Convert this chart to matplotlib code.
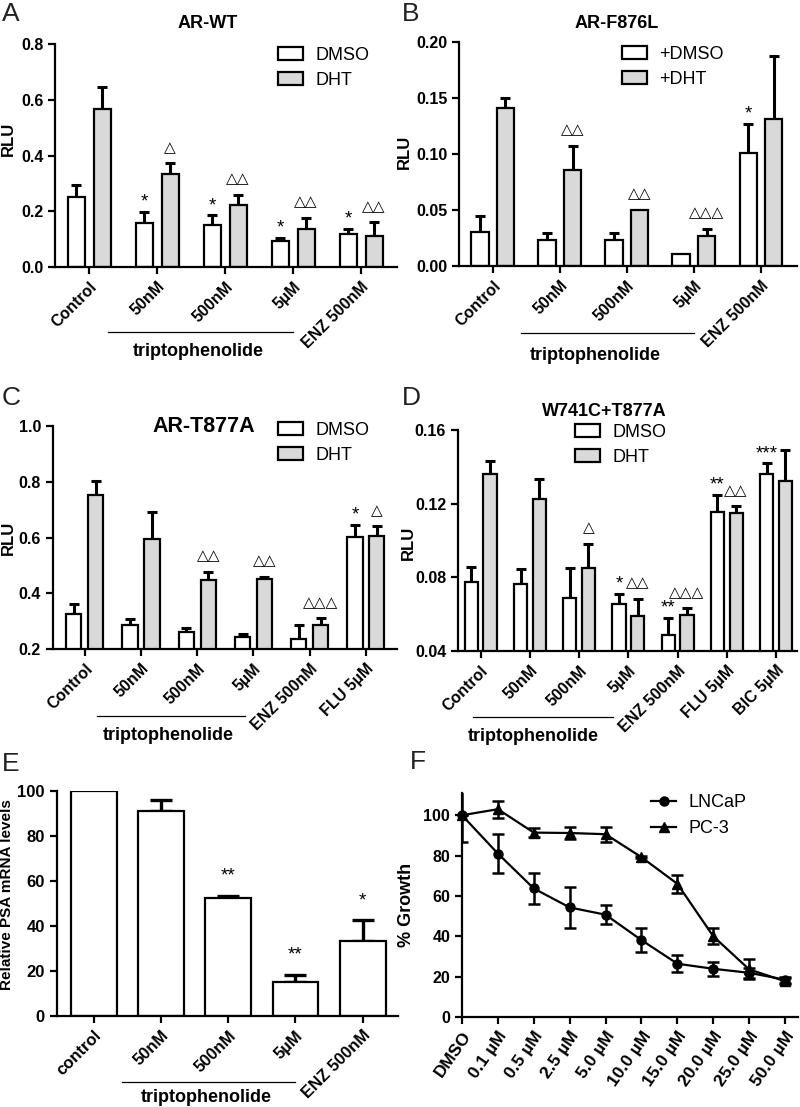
import numpy as np
import matplotlib.pyplot as plt
from matplotlib.patches import Patch
from matplotlib.lines import Line2D

plt.rcParams['font.family'] = ['Liberation Sans', 'DejaVu Sans']
plt.rcParams['axes.linewidth'] = 1.6

GREY = '#d9d9d9'

# ---------------- data ----------------
a_groups = ['Control', '50nM', '500nM', '5µM', 'ENZ 500nM']
a_dmso = [0.251, 0.158, 0.149, 0.094, 0.119]
a_dmso_err = [0.044, 0.039, 0.036, 0.011, 0.018]
a_dht = [0.567, 0.334, 0.223, 0.136, 0.113]
a_dht_err = [0.078, 0.039, 0.036, 0.040, 0.047]
a_dmso_sig = ['', '*', '*', '*', '*']
a_dht_sig = ['', '△', '△△', '△△', '△△']

b_groups = ['Control', '50nM', '500nM', '5µM', 'ENZ 500nM']
b_dmso = [0.030, 0.0236, 0.0236, 0.0104, 0.1006]
b_dmso_err = [0.0144, 0.006, 0.006, 0.0, 0.0266]
b_dht = [0.1409, 0.0857, 0.0504, 0.0272, 0.131]
b_dht_err = [0.0095, 0.0215, 0.0, 0.006, 0.0568]
b_dmso_sig = ['', '', '', '', '*']
b_dht_sig = ['', '△△', '△△', '△△△', '']

c_groups = ['Control', '50nM', '500nM', '5µM', 'ENZ 500nM', 'FLU 5µM']
c_dmso = [0.326, 0.287, 0.261, 0.242, 0.237, 0.601]
c_dmso_err = [0.035, 0.021, 0.014, 0.013, 0.048, 0.044]
c_dht = [0.752, 0.595, 0.448, 0.452, 0.285, 0.607]
c_dht_err = [0.051, 0.097, 0.030, 0.008, 0.026, 0.034]
c_dmso_sig = ['', '', '', '', '', '*']
c_dht_sig = ['', '', '△△', '△△', '△△△', '△']

d_groups = ['Control', '50nM', '500nM', '5µM', 'ENZ 500nM', 'FLU 5µM', 'BIC 5µM']
d_dmso = [0.0776, 0.0762, 0.069, 0.0657, 0.0489, 0.1157, 0.136]
d_dmso_err = [0.0078, 0.0083, 0.0159, 0.0051, 0.0091, 0.009, 0.0059]
d_dht = [0.136, 0.1225, 0.0852, 0.059, 0.0595, 0.1147, 0.1321]
d_dht_err = [0.0073, 0.0109, 0.0131, 0.0094, 0.0037, 0.004, 0.0169]
d_dmso_sig = ['', '', '', '*', '**', '**', '***']
d_dht_sig = ['', '', '△', '△△', '△△△', '△△', '']

e_groups = ['control', '50nM', '500nM', '5µM', 'ENZ 500nM']
e_psa = [100, 91, 52.3, 15.1, 33.2]
e_psa_err = [0, 5.1, 1.2, 3.3, 9.3]
e_sig = ['', '', '**', '**', '*']

f_doses = ['DMSO', '0.1 µM', '0.5 µM', '2.5 µM', '5.0 µM', '10.0 µM',
           '15.0 µM', '20.0 µM', '25.0 µM', '50.0 µM']
f_lncap = [100, 81, 63.7, 54.3, 50.7, 38.1, 26.4, 23.9, 21.9, 18.5]
f_lncap_err = [13.5, 9.6, 7.6, 10, 4.8, 6, 4.2, 3.5, 2.4, 1.5]
f_pc3 = [100, 103, 91.4, 91.2, 90.6, 79.2, 66, 40, 23.6, 17.7]
f_pc3_err = [0, 4.3, 2.2, 2.8, 3.8, 0.6, 4.4, 4, 5, 1.5]

fig = plt.figure(figsize=(8, 11.07), dpi=100)


def style(ax, ysize=11.5):
    for s in ['top', 'right']:
        ax.spines[s].set_visible(False)
    ax.tick_params(direction='out', length=5, width=1.6, labelsize=ysize)
    plt.setp(ax.get_yticklabels(), fontweight='bold')


def legend(ax, labels, fx, fy):
    handles = [Patch(facecolor='white', edgecolor='black', lw=1.6),
               Patch(facecolor=GREY, edgecolor='black', lw=1.6)]
    ax.legend(handles, labels, loc='upper left', bbox_to_anchor=(fx / 800, 1 - fy / 1107),
              bbox_transform=fig.transFigure, frameon=False, fontsize=13,
              handlelength=1.4, handleheight=0.75, handletextpad=0.65,
              labelspacing=0.42, borderpad=0, borderaxespad=0)


def marks(ax, xs, tops, sig, star):
    for xi, t, s in zip(xs, tops, sig):
        if not s:
            continue
        if star:
            ax.annotate(s, (xi, t), xytext=(0, 1), textcoords='offset points',
                        ha='center', va='bottom', fontsize=13.5)
        else:
            ax.annotate(s, (xi, t), xytext=(0, 6), textcoords='offset points',
                        ha='center', va='bottom', fontsize=11, family='DejaVu Sans')


def bar_panel(ax, groups, dmso, dmso_err, dht, dht_err, dmso_sig, dht_sig, off, w):
    x = np.arange(len(groups))
    ax.bar(x - off, dmso, w, color='white', edgecolor='black', lw=1.6, zorder=2)
    ax.bar(x + off, dht, w, color=GREY, edgecolor='black', lw=1.6, zorder=2)
    for xs, ys, es in ((x - off, dmso, dmso_err), (x + off, dht, dht_err)):
        ys = np.asarray(ys)
        es = np.asarray(es)
        m = es > 0
        ax.errorbar(xs[m], ys[m], yerr=[np.zeros(m.sum()), es[m]], fmt='none',
                    ecolor='black', elinewidth=2.2, capsize=3.5, capthick=2.2, zorder=1)
    marks(ax, x - off, np.asarray(dmso) + np.asarray(dmso_err), dmso_sig, True)
    marks(ax, x + off, np.asarray(dht) + np.asarray(dht_err), dht_sig, False)
    ax.set_xticks(x)
    ax.set_xticklabels(groups, rotation=45, ha='right', va='top', rotation_mode='anchor',
                       fontweight='bold', fontsize=12.5)
    style(ax)


def tripto(ax, x0, x1, yl, xt, yt):
    tr = ax.get_xaxis_transform()
    ax.plot([x0, x1], [yl, yl], transform=tr, clip_on=False, color='black', lw=0.9)
    ax.text(xt, yt, 'triptophenolide', transform=tr, ha='center', va='center',
            fontweight='bold', fontsize=13)


def letter(x, y, s):
    fig.text(x / 800, 1 - y / 1107, s, fontsize=19, color='#222222', va='top', ha='left')


# ---------------- A ----------------
axA = fig.add_axes([0.069, 0.7588, 0.4275, 0.2014])
bar_panel(axA, a_groups, a_dmso, a_dmso_err, a_dht, a_dht_err, a_dmso_sig, a_dht_sig, 0.19, 0.25)
axA.set_xlim(-0.5, 4.53)
axA.set_ylim(0, 0.8)
axA.set_yticks([0, 0.2, 0.4, 0.6, 0.8])
axA.set_yticklabels(['0.0', '0.2', '0.4', '0.6', '0.8'], fontweight='bold')
axA.set_ylabel('RLU', fontweight='bold', fontsize=12)
axA.yaxis.set_label_coords(-0.114, 0.576)
axA.text(0.447, 1.094, 'AR-WT', transform=axA.transAxes, ha='center', va='center',
         fontweight='bold', fontsize=13)
legend(axA, ['DMSO', 'DHT'], 278, 47)
tripto(axA, 0.27, 3.0, -0.29, 1.6, -0.38)
letter(2, 2, 'A')

# ---------------- B ----------------
axB = fig.add_axes([0.574, 0.7597, 0.4225, 0.2023])
bar_panel(axB, b_groups, b_dmso, b_dmso_err, b_dht, b_dht_err, b_dmso_sig, b_dht_sig, 0.19, 0.26)
axB.set_xlim(-0.5, 4.54)
axB.set_ylim(0, 0.2)
axB.set_yticks([0, 0.05, 0.10, 0.15, 0.20])
axB.set_yticklabels(['0.00', '0.05', '0.10', '0.15', '0.20'], fontweight='bold')
axB.set_ylabel('RLU', fontweight='bold', fontsize=12)
axB.yaxis.set_label_coords(-0.139, 0.51)
axB.text(0.467, 1.085, 'AR-F876L', transform=axB.transAxes, ha='center', va='center',
         fontweight='bold', fontsize=13)
legend(axB, ['+DMSO', '+DHT'], 622, 46)
tripto(axB, 0.42, 3.0, -0.30, 1.53, -0.40)
letter(402, 2, 'B')

# ---------------- C ----------------
axC = fig.add_axes([0.066, 0.4137, 0.43, 0.2014])
bar_panel(axC, c_groups, c_dmso, c_dmso_err, c_dht, c_dht_err, c_dmso_sig, c_dht_sig, 0.195, 0.27)
axC.set_xlim(-0.57, 5.55)
axC.set_ylim(0.2, 1.0)
axC.set_yticks([0.2, 0.4, 0.6, 0.8, 1.0])
axC.set_yticklabels(['0.2', '0.4', '0.6', '0.8', '1.0'], fontweight='bold')
axC.set_ylabel('RLU', fontweight='bold', fontsize=12)
axC.yaxis.set_label_coords(-0.108, 0.5)
axC.text(0.44, 1.0, 'AR-T877A', transform=axC.transAxes, ha='center', va='center',
         fontweight='bold', fontsize=15.5)
legend(axC, ['DMSO', 'DHT'], 278, 422)
tripto(axC, 0.21, 2.85, -0.30, 1.48, -0.386)
letter(2, 386, 'C')

# ---------------- D ----------------
axD = fig.add_axes([0.5725, 0.4119, 0.424, 0.1996])
bar_panel(axD, d_groups, d_dmso, d_dmso_err, d_dht, d_dht_err, d_dmso_sig, d_dht_sig, 0.19, 0.27)
axD.set_xlim(-0.46, 6.43)
axD.set_ylim(0.04, 0.16)
axD.set_yticks([0.04, 0.08, 0.12, 0.16])
axD.set_yticklabels(['0.04', '0.08', '0.12', '0.16'], fontweight='bold')
axD.set_ylabel('RLU', fontweight='bold', fontsize=12)
axD.yaxis.set_label_coords(-0.124, 0.49)
axD.text(0.43, 1.083, 'W741C+T877A', transform=axD.transAxes, ha='center', va='center',
         fontweight='bold', fontsize=13)
legend(axD, ['DMSO', 'DHT'], 575, 424)
tripto(axD, -0.16, 2.69, -0.30, 1.06, -0.385)
letter(402, 386, 'D')

# ---------------- E ----------------
axE = fig.add_axes([0.071, 0.0822, 0.426, 0.2033])
xe = np.arange(len(e_groups))
axE.bar(xe, e_psa, 0.68, color='white', edgecolor='black', lw=1.6, zorder=2)
me = np.asarray(e_psa_err) > 0
axE.errorbar(xe[me], np.asarray(e_psa)[me], yerr=[np.zeros(me.sum()), np.asarray(e_psa_err)[me]],
             fmt='none', ecolor='black', elinewidth=2.4, capsize=8, capthick=2.4, zorder=1)
for xi, t, s in zip(xe, np.asarray(e_psa) + np.asarray(e_psa_err), e_sig):
    if s:
        axE.annotate(s, (xi, t), xytext=(0, 8), textcoords='offset points',
                     ha='center', va='bottom', fontsize=13.5)
axE.set_xticks(xe)
axE.set_xticklabels(e_groups, rotation=45, ha='right', va='top', rotation_mode='anchor',
                    fontweight='bold', fontsize=12.5)
style(axE, 12)
axE.set_xlim(-0.55, 4.52)
axE.set_ylim(0, 100)
axE.set_yticks([0, 20, 40, 60, 80, 100])
plt.setp(axE.get_yticklabels(), fontweight='bold')
axE.set_ylabel('Relative PSA mRNA levels', fontweight='bold', fontsize=11)
axE.yaxis.set_label_coords(-0.125, 0.54)
tripto(axE, 0.42, 3.0, -0.293, 1.67, -0.36)
letter(2, 752, 'E')

# ---------------- F ----------------
axF = fig.add_axes([0.5775, 0.0813, 0.42, 0.2023])
xf = np.arange(len(f_doses))
for vals, errs, mk, lab in ((f_lncap, f_lncap_err, 'o', 'LNCaP'), (f_pc3, f_pc3_err, '^', 'PC-3')):
    axF.plot(xf, vals, color='black', lw=1.6, marker=mk, ms=6.5, clip_on=False, zorder=3, label=lab)
    axF.errorbar(xf, vals, yerr=errs, fmt='none', ecolor='black',
                 capsize=4.5, capthick=1.8, elinewidth=1.8, zorder=2)
style(axF)
axF.set_xticks(xf)
axF.set_xticklabels(f_doses, rotation=55, ha='right', va='top', rotation_mode='anchor',
                    fontweight='bold', fontsize=12.5)
axF.set_xlim(0, 9.36)
axF.set_ylim(0, 111)
axF.set_yticks([0, 20, 40, 60, 80, 100])
plt.setp(axF.get_yticklabels(), fontweight='bold')
axF.set_ylabel('% Growth', fontweight='bold', fontsize=13)
axF.yaxis.set_label_coords(-0.14, 0.5)
hl = [Line2D([0], [0], color='black', lw=1.6, marker='o', ms=6.5),
      Line2D([0], [0], color='black', lw=1.6, marker='^', ms=6.5)]
axF.legend(hl, ['LNCaP', 'PC-3'], loc='upper left', bbox_to_anchor=(651 / 800, 1 - 794 / 1107),
           bbox_transform=fig.transFigure, frameon=False, fontsize=13, numpoints=1,
           handlelength=1.4, handletextpad=0.7, labelspacing=0.5, borderpad=0, borderaxespad=0)
letter(410, 750, 'F')

fig.savefig('out.png', dpi=100)
